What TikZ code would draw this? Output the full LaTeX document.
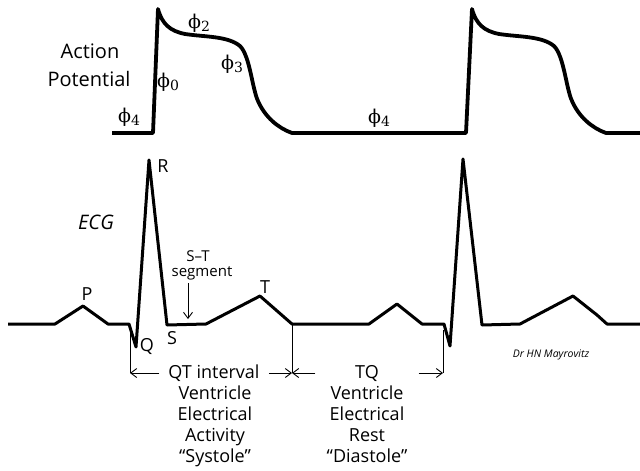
\documentclass[tikz,border=0pt]{standalone}
\usepackage{amsmath}
\usepackage{fontspec}
\setsansfont{Open Sans}
\newfontfamily\phasefont{DejaVu Serif}
\usepackage{tikz}
\usetikzlibrary{arrows.meta}
\definecolor{traceBlack}{RGB}{0, 0, 0}
\newcommand{\phase}[1]{{\phasefont ϕ}\raisebox{-0.45ex}{\fontsize{14}{14}\selectfont\phasefont #1}}

\begin{document}
\begin{tikzpicture}[x=1pt, y=-1pt,
    apline/.style={traceBlack, line width=3.8pt, line join=round},
    ecgline/.style={traceBlack, line width=3pt, line join=round},
    tickline/.style={traceBlack, line width=0.9pt},
    dimarrow/.style={traceBlack, line width=0.9pt, -{Straight Barb[length=6pt, width=9pt]}},
    bigtext/.style={font=\sffamily\fontsize{20}{24}\selectfont},
    wavetext/.style={font=\sffamily\fontsize{18}{21}\selectfont},
    phasetext/.style={font=\fontsize{19}{22}\selectfont, inner sep=1pt},
    smalltext/.style={font=\sffamily\fontsize{15}{18}\selectfont},
    colltext/.style={font=\sffamily\fontsize{18}{21}\selectfont, align=center, inner sep=0pt, anchor=north}]
        \useasboundingbox (0,0) rectangle (640,471);
        % action potential
        \draw[apline] (112,133) -- (153,133) -- (158,9)
            .. controls (162,24) and (170,31) .. (185,34)
            .. controls (205,37) and (228,36) .. (240,46)
            .. controls (250,56) and (252,88) .. (258,101)
            .. controls (265,117) and (278,128) .. (292,133) -- (466,133) -- (472,9)
            .. controls (476,24) and (484,31) .. (499,34)
            .. controls (519,37) and (542,36) .. (554,46)
            .. controls (564,56) and (566,88) .. (572,101)
            .. controls (579,117) and (592,128) .. (606,133) -- (640,133);
        \node[bigtext] (action) at (90,51) {Action};
        \node[bigtext] (potential) at (89,79) {Potential};
        \node[phasetext] (phaseA) at (129,117) {\phase{4}};
        \node[phasetext] (phaseB) at (168,82) {\phase{0}};
        \node[phasetext] (phaseC) at (199,23) {\phase{2}};
        \node[phasetext] (phaseD) at (232,64) {\phase{3}};
        \node[phasetext] (phaseE) at (379,118) {\phase{4}};
        % ecg
        \draw[ecgline] (8,324) -- (55,324) -- (83,306) -- (108,324) -- (129,324)
            -- (136,347) -- (149,160) -- (167,325) -- (206,324) -- (260,296)
            -- (292,324) -- (369,324) -- (397,304) -- (422,324) -- (444,324)
            -- (450,346) -- (463,159) -- (482,325) -- (520,324) -- (573,296)
            -- (597,315) -- (607,324) -- (640,324);
        \node[bigtext] (ecg) at (96,222) {\itshape ECG};
        \node[wavetext] (wp) at (87,294) {P};
        \node[wavetext] (wq) at (147,346) {Q};
        \node[wavetext] (wr) at (163,166) {R};
        \node[wavetext] (ws) at (172,338) {S};
        \node[wavetext] (wt) at (265,287) {T};
        \node[smalltext] (st) at (198,256) {S--T};
        \node[smalltext] (seg) at (202,273) {segment};
        \coordinate (stpt) at (188,319);
        \draw[dimarrow] (seg.south -| stpt) -- (stpt);
        \node[font=\sffamily\itshape\fontsize{10.5}{12}\selectfont] (sig) at (551,355) {Dr HN Mayrovitz};
        % intervals
        \coordinate (qtop) at (130,325);
        \coordinate (qbot) at (130,373);
        \coordinate (ttop) at (292,324);
        \coordinate (tbot) at (292,373);
        \coordinate (rtop) at (443,330);
        \coordinate (rbot) at (443,373);
        \draw[tickline] (qtop) -- (qbot);
        \draw[tickline] (ttop) -- (tbot);
        \draw[tickline] (rtop) -- (rbot);
        \node[colltext, anchor=center, inner xsep=9pt] (qt) at (214,373) {QT interval};
        \node[colltext, anchor=center, minimum width=103pt] (tq) at (367,373) {TQ};
        \draw[dimarrow] (qt.west) -- (qbot);
        \draw[dimarrow] (qt.east) -- (tbot);
        \draw[dimarrow] (tq.west) -- (tbot);
        \draw[dimarrow] (tq.east) -- (rbot);
        \node[colltext] (systole) at (215,386) {Ventricle\\Electrical\\Activity\\``Systole''};
        \node[colltext] (diastole) at (367,386) {Ventricle\\Electrical\\Rest\\``Diastole''};
\end{tikzpicture}
\end{document}
